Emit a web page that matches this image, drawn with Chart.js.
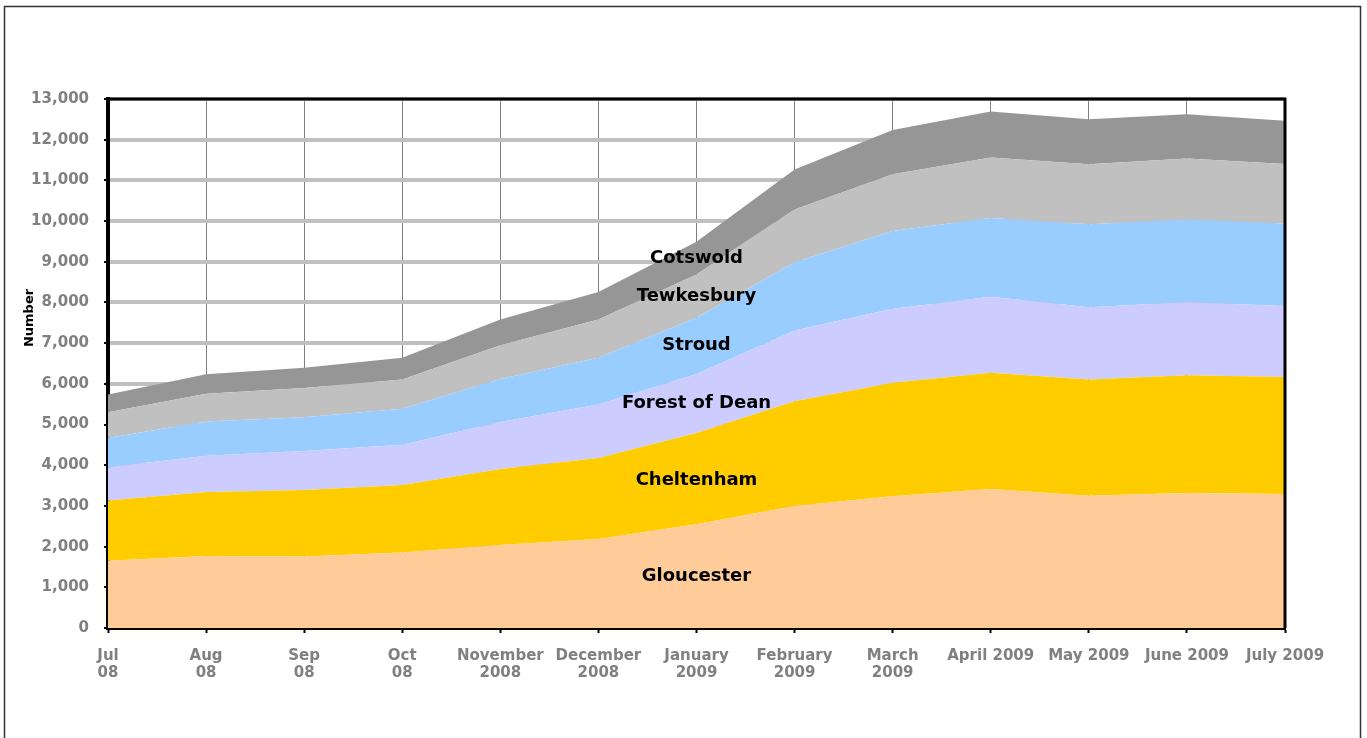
<!DOCTYPE html>
<html>
<head>
<meta charset="utf-8">
<script src="https://cdn.jsdelivr.net/npm/chart.js@4/dist/chart.umd.min.js"></script>
<style>
  html, body { margin: 0; padding: 0; background: #fff; }
  #wrap { position: relative; width: 1367px; height: 738px; }
</style>
</head>
<body>
<div id="wrap"><canvas id="chart" width="1367" height="738"></canvas></div>
<script>
"use strict";

let MONTHS = [
    ["Jul", "08"], ["Aug", "08"], ["Sep", "08"], ["Oct", "08"],
    ["November", "2008"], ["December", "2008"], ["January", "2009"],
    ["February", "2009"], ["March", "2009"],
    "April 2009", "May 2009", "June 2009", "July 2009"
];

let GLOUCESTER     = [1650, 1770, 1755, 1855, 2040, 2185, 2550, 3000, 3235, 3415, 3250, 3315, 3290];
let CHELTENHAM     = [1485, 1575, 1635, 1660, 1865, 1995, 2240, 2570, 2790, 2855, 2855, 2895, 2880];
let FOREST_OF_DEAN = [ 815,  885,  960,  990, 1155, 1310, 1455, 1740, 1820, 1870, 1780, 1795, 1740];
let STROUD         = [ 720,  845,  830,  880, 1060, 1150, 1380, 1680, 1910, 1935, 2035, 2035, 2030];
let TEWKESBURY     = [ 630,  680,  720,  720,  830,  940, 1065, 1295, 1395, 1485, 1475, 1495, 1460];
let COTSWOLD       = [ 440,  480,  495,  535,  630,  675,  805,  985, 1090, 1130, 1110, 1090, 1065];

let NAMES  = ["Gloucester", "Cheltenham", "Forest of Dean", "Stroud", "Tewkesbury", "Cotswold"];
let SERIES = [GLOUCESTER, CHELTENHAM, FOREST_OF_DEAN, STROUD, TEWKESBURY, COTSWOLD];
let COLORS = ["#FFCC99", "#FFCC00", "#CCCCFF", "#99CCFF", "#C0C0C0", "#969696"];

// where the in-chart series names sit (category index, value)
let LABEL_AT = 6;
let LABEL_Y  = [1280, 3640, 5510, 6940, 8150, 9080];

let FONT = "'DejaVu Sans', Verdana, sans-serif";

let datasets = SERIES.map(function(values, i) {
    return {
        label: NAMES[i],
        data: values,
        backgroundColor: COLORS[i],
        borderWidth: 0,
        pointRadius: 0,
        tension: 0,
        fill: i === 0 ? "origin" : "-1"
    };
});

let seriesLabels = {
    id: "seriesLabels",
    afterDatasetsDraw(chart) {
        let ctx = chart.ctx;
        let x = chart.scales.x.getPixelForValue(LABEL_AT);
        ctx.save();
        ctx.font = "bold 18px " + FONT;
        ctx.fillStyle = "#000";
        ctx.textAlign = "center";
        ctx.textBaseline = "middle";
        NAMES.forEach(function(name, i) {
            ctx.fillText(name, x, chart.scales.y.getPixelForValue(LABEL_Y[i]));
        });
        ctx.restore();
    }
};

let frame = {
    id: "frame",
    afterDraw(chart) {
        let ctx = chart.ctx;
        let a = chart.chartArea;
        ctx.save();
        // top and right borders of the plot area
        ctx.strokeStyle = "#000";
        ctx.lineWidth = 3;
        ctx.beginPath();
        ctx.moveTo(a.left, a.top);
        ctx.lineTo(a.right, a.top);
        ctx.lineTo(a.right, a.bottom);
        ctx.stroke();
        // y axis title
        ctx.translate(30, 318);
        ctx.rotate(-Math.PI / 2);
        ctx.font = "bold 13px " + FONT;
        ctx.fillStyle = "#000";
        ctx.textAlign = "center";
        ctx.textBaseline = "middle";
        ctx.fillText("Number", 0, 0);
        ctx.setTransform(1, 0, 0, 1, 0, 0);
        // outer frame
        ctx.strokeStyle = "#333";
        ctx.lineWidth = 1.5;
        ctx.strokeRect(4.5, 6.5, 1356, 740);
        ctx.restore();
    }
};

new Chart(document.getElementById("chart"), {
    type: "line",
    data: { labels: MONTHS, datasets: datasets },
    plugins: [seriesLabels, frame],
    options: {
        responsive: false,
        animation: false,
        events: [],
        layout: { padding: { top: 99, right: 82, bottom: 0, left: 0 } },
        plugins: {
            legend: { display: false },
            tooltip: { enabled: false }
        },
        scales: {
            x: {
                offset: false,
                afterFit(scale) { scale.height = 110; },
                grid: {
                    color: "#808080",
                    lineWidth: 1,
                    tickColor: "#000",
                    tickWidth: 2,
                    tickLength: 5,
                    z: -1
                },
                border: { color: "#000", width: 3 },
                ticks: {
                    color: "#808080",
                    font: { family: FONT, size: 15, weight: "bold", lineHeight: 1.15 },
                    maxRotation: 0,
                    autoSkip: false,
                    padding: 14
                }
            },
            y: {
                stacked: true,
                min: 0,
                max: 13000,
                afterFit(scale) { scale.width = 108; },
                grid: {
                    color: "#C0C0C0",
                    lineWidth: 4,
                    tickColor: "#000",
                    tickWidth: 2,
                    tickLength: 4,
                    z: -1
                },
                border: { color: "#000", width: 4 },
                ticks: {
                    stepSize: 1000,
                    color: "#808080",
                    font: { family: FONT, size: 15, weight: "bold" },
                    padding: 15,
                    callback: function(v) { return v.toLocaleString("en-GB"); }
                }
            }
        }
    }
});
</script>
</body>
</html>
